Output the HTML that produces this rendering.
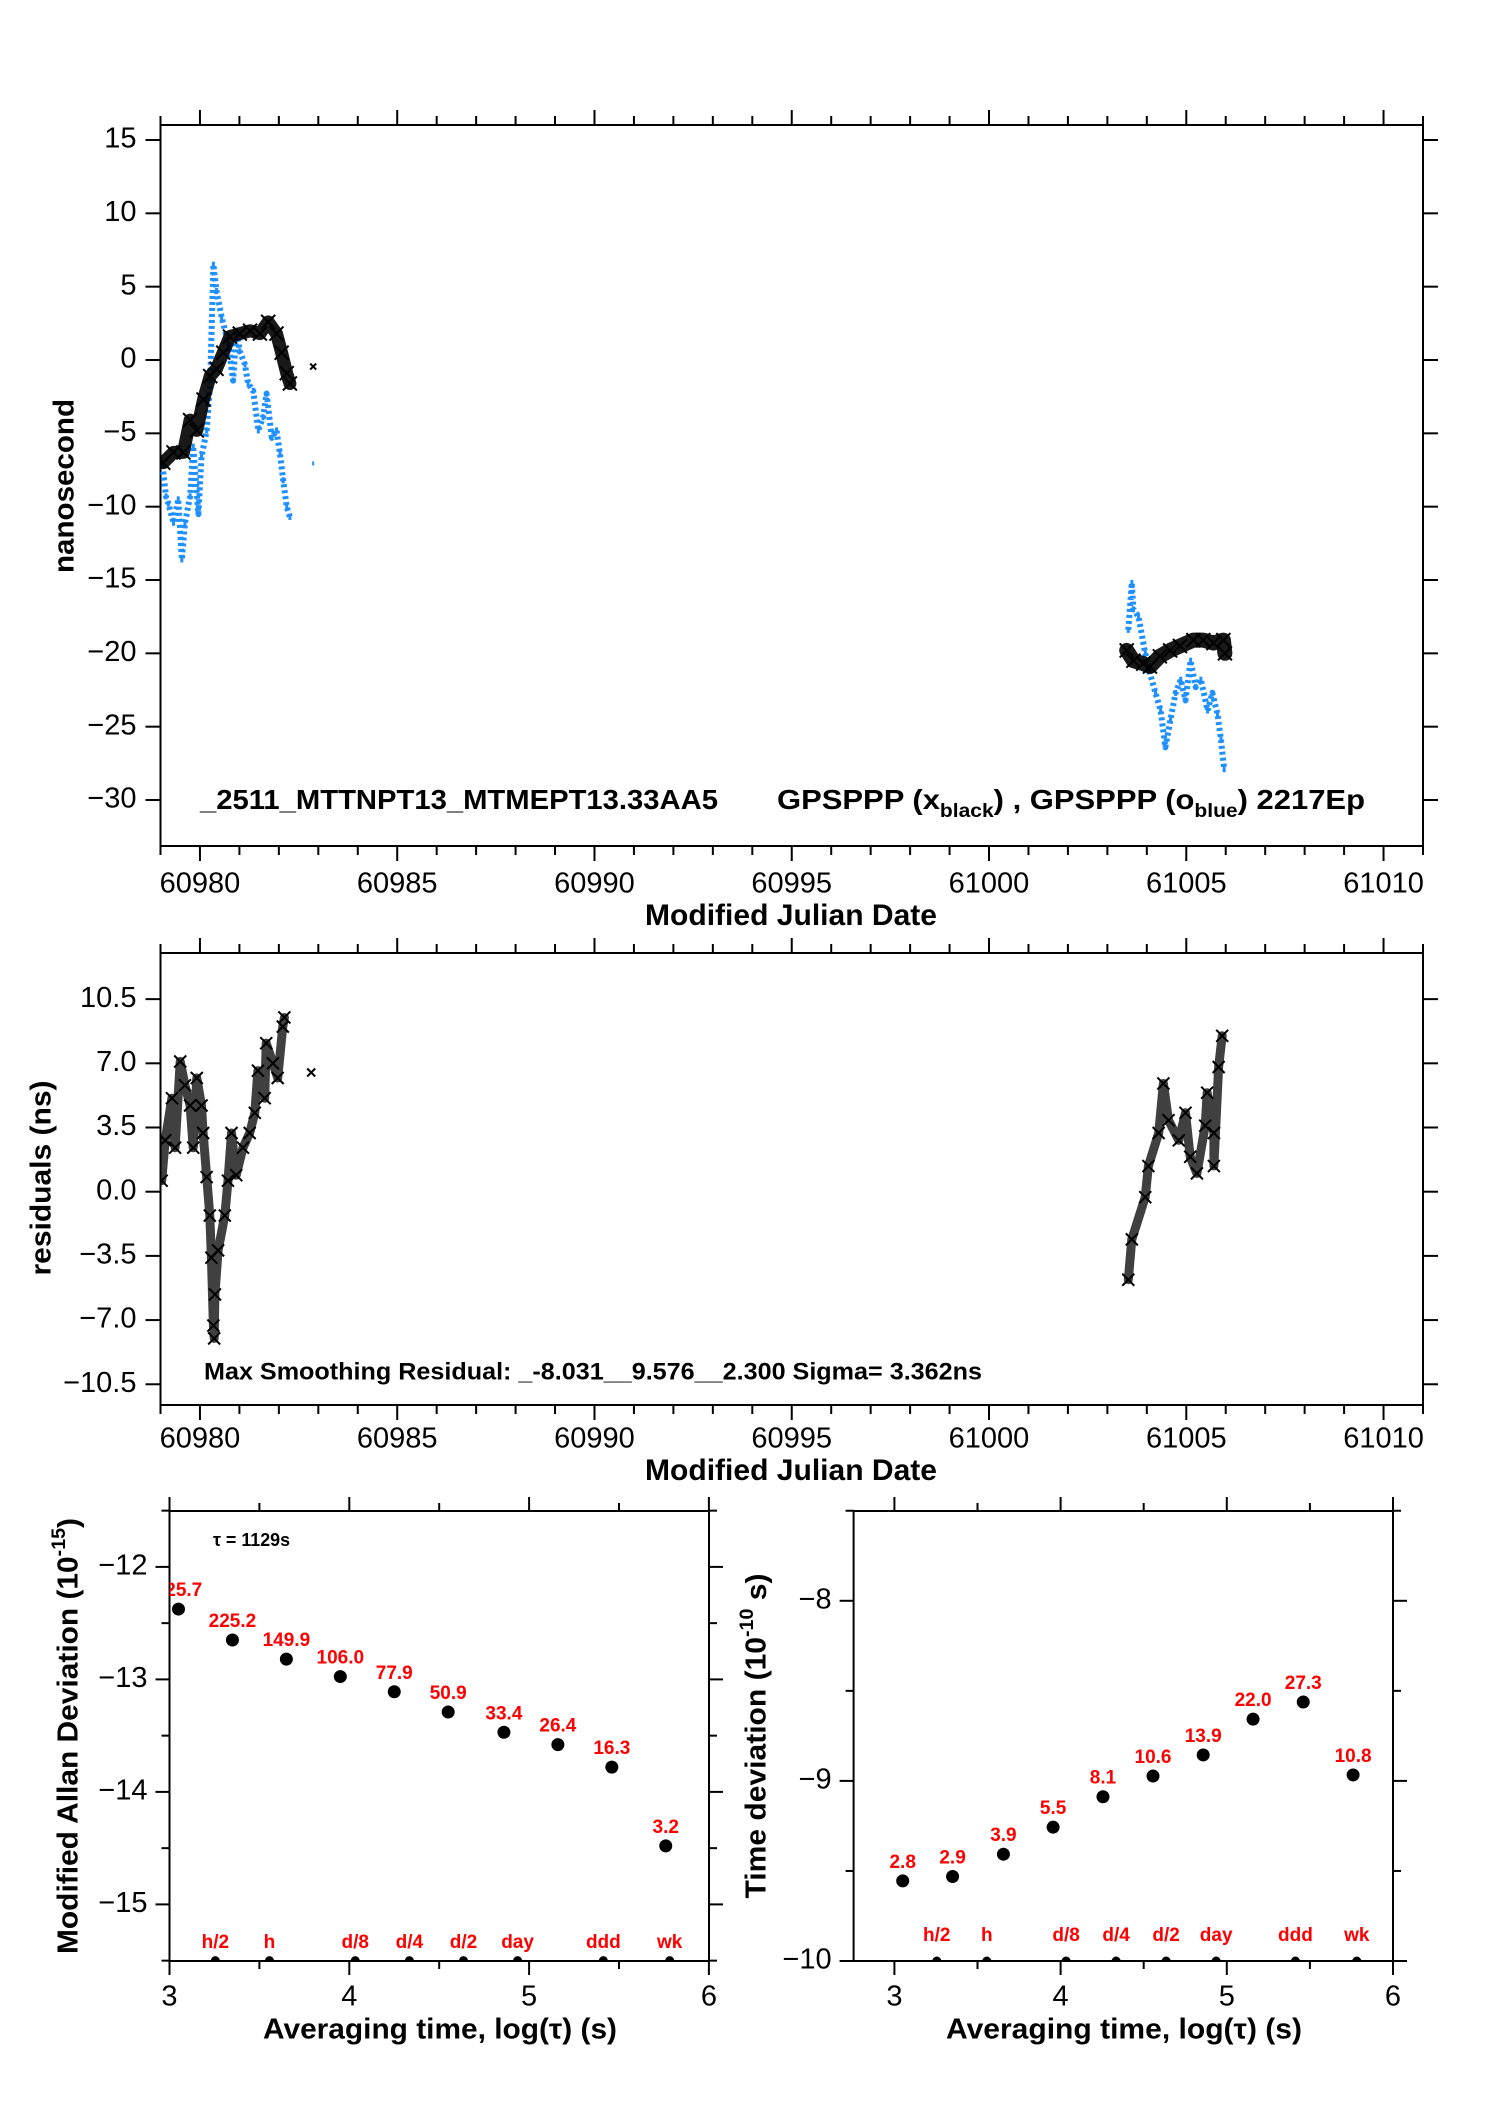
<!DOCTYPE html>
<html><head><meta charset="utf-8"><style>
html,body{margin:0;padding:0;background:#fff;}
svg{display:block;font-family:"Liberation Sans",Arial,sans-serif;}
</style></head><body>
<svg id="chart" xmlns="http://www.w3.org/2000/svg" width="1488" height="2105" viewBox="0 0 1488 2105">
<rect x="0" y="0" width="1488" height="2105" fill="#fff"/>
<defs>
<clipPath id="clipTop"><rect x="160.5" y="125" width="1262.5" height="721"/></clipPath>
<clipPath id="clipMid"><rect x="160.5" y="953" width="1262.5" height="452"/></clipPath>
<clipPath id="clipL"><rect x="169.5" y="1511" width="539.5" height="450"/></clipPath>
<clipPath id="clipR"><rect x="853.6" y="1511" width="539.4" height="450"/></clipPath>
</defs>
<g id="layer"></g>
</svg>
<script>
// ---------- data ----------
const blackMjd1 = [60979.07,60979.33,60979.58,60979.75,60979.92,60980.09,60980.26,60980.42,60980.59,60980.76,60981.01,60981.27,60981.52,60981.73,60981.94,60982.07,60982.2,60982.28];
const blackNs1  = [-7.0,-6.3,-6.3,-4.1,-4.8,-2.7,-1.1,-0.6,0.5,1.6,1.8,2.0,1.8,2.6,1.8,0.5,-0.9,-1.6];
const blackMjd2 = [61003.49,61003.66,61003.91,61004.08,61004.33,61004.59,61004.84,61005.18,61005.43,61005.69,61005.94,61005.98];
const blackNs2  = [-19.8,-20.5,-20.7,-20.9,-20.2,-19.8,-19.5,-19.1,-19.1,-19.3,-19.1,-20.0];
const blackOutMjd = [60982.87];
const blackOutNs = [-0.45];
const blueMjd1 = [60979.05,60979.14,60979.2,60979.33,60979.45,60979.54,60979.62,60979.75,60979.83,60979.96,60980.04,60980.17,60980.26,60980.34,60980.42,60980.55,60980.72,60980.84,60980.93,60981.01,60981.14,60981.22,60981.35,60981.48,60981.6,60981.69,60981.82,60981.94,60982.03,60982.11,60982.2,60982.28];
const blueNs1  = [-7.2,-9.3,-9.8,-11.1,-9.5,-13.6,-11.1,-9.3,-5.9,-10.5,-6.6,-4.8,-1.4,6.5,4.7,2.9,1.1,-1.4,2.0,0.6,-0.3,-1.6,-2.1,-4.8,-3.9,-2.3,-5.3,-4.8,-6.4,-8.2,-10.0,-10.7];
const blueMjd2 = [61003.53,61003.62,61003.66,61003.79,61003.96,61004.05,61004.22,61004.35,61004.47,61004.6,61004.73,61004.86,61004.98,61005.11,61005.24,61005.37,61005.54,61005.66,61005.79,61005.88,61005.96];
const blueNs2  = [-18.4,-15.2,-17.0,-17.5,-20.0,-21.1,-22.7,-23.9,-26.4,-24.5,-22.7,-21.8,-23.2,-20.5,-22.3,-21.8,-23.9,-22.7,-24.1,-25.9,-27.9];
const blueOutMjd = [60982.87];
const blueOutNs = [-7.05];

const resMjd1 = [60979.03,60979.12,60979.29,60979.37,60979.5,60979.62,60979.75,60979.83,60979.92,60980.04,60980.08,60980.17,60980.25,60980.29,60980.34,60980.36,60980.38,60980.46,60980.63,60980.71,60980.8,60980.92,60981.09,60981.26,60981.39,60981.47,60981.64,60981.68,60981.85,60981.97,60982.1,60982.14];
const resNs1  = [0.6,2.8,5.1,2.4,7.1,5.8,4.7,2.4,6.2,4.7,3.2,0.8,-1.3,-3.6,-7.3,-8.0,-5.6,-3.2,-1.3,0.6,3.2,0.9,2.4,3.2,4.3,6.6,5.1,8.1,7.0,6.2,9.0,9.5];
const resMjd2 = [61003.53,61003.62,61003.96,61004.04,61004.3,61004.42,61004.55,61004.81,61004.98,61005.1,61005.27,61005.48,61005.53,61005.7,61005.7,61005.82,61005.91];
const resNs2  = [-4.8,-2.6,-0.3,1.4,3.2,5.9,3.9,2.8,4.3,1.9,1.0,3.6,5.4,3.2,1.4,6.8,8.5];
const resOutMjd = [60982.82];
const resOutNs = [6.5];

const mdevLogTau = [3.05,3.35,3.65,3.95,4.25,4.55,4.86,5.16,5.46,5.76];
const mdevVal    = [-12.375,-12.65,-12.82,-12.975,-13.11,-13.29,-13.47,-13.58,-13.78,-14.48];
const mdevLabels = ["225.7","225.2","149.9","106.0","77.9","50.9","33.4","26.4","16.3","3.2"];
const tdevLogTau = [3.05,3.35,3.656,3.955,4.255,4.556,4.858,5.158,5.46,5.76];
const tdevVal    = [-9.555,-9.531,-9.407,-9.257,-9.088,-8.973,-8.856,-8.657,-8.562,-8.967];
const tdevLabels = ["2.8","2.9","3.9","5.5","8.1","10.6","13.9","22.0","27.3","10.8"];
const markNames  = ["h/2","h","d/8","d/4","d/2","day","ddd","wk"];
const markLogTau = [3.255,3.556,4.033,4.334,4.635,4.936,5.413,5.782];

const mjdTicks = [60980,60985,60990,60995,61000,61005,61010];
const topYTicks = [15,10,5,0,-5,-10,-15,-20,-25,-30];
const midYTicks = [10.5,7.0,3.5,0.0,-3.5,-7.0,-10.5];
const logTicks = [3,4,5,6];
const mdevYTicks = [-12,-13,-14,-15];
const tdevYTicks = [-8,-9,-10];

// ---------- scales ----------
const xMjd = m => 160.5 + (m - 60979) * 39.453;
const yTop = v => 360 - v * 14.667;
const yMid = v => 1191.7 - v * 18.34;
const xL = l => 169.5 + (l - 3) * 179.8;
const yL = v => 1566.9 + (-12 - v) * 112.5;
const xR = l => 894.4 + (l - 3) * 166.2;
const yR = v => 1600.8 + (-8 - v) * 180.1;

const NS = "http://www.w3.org/2000/svg";
const layer = document.getElementById('layer');
function mk(tag, attrs, parent) {
  const el = document.createElementNS(NS, tag);
  for (const k in attrs) el.setAttribute(k, attrs[k]);
  (parent || layer).appendChild(el);
  return el;
}
function txt(s, x, y, size, opts, parent) {
  const o = opts || {};
  const el = mk('text', {x: x, y: y, 'font-size': size, 'text-anchor': o.anchor || 'middle',
    'font-weight': o.bold ? 'bold' : 'normal', fill: o.fill || '#000', 'dominant-baseline': o.db || 'auto'}, parent);
  if (o.len) { el.setAttribute('textLength', o.len); el.setAttribute('lengthAdjust', 'spacingAndGlyphs'); }
  el.textContent = s;
  return el;
}
function line(x1, y1, x2, y2, w, parent) {
  return mk('line', {x1: x1, y1: y1, x2: x2, y2: y2, stroke: '#000', 'stroke-width': w || 2}, parent);
}

// ---------- frames ----------
function frame(x, y, w, h, name) {
  const r = mk('rect', {x: x, y: y, width: w, height: h, fill: 'none', stroke: '#000', 'stroke-width': 2});
  
  
}
frame(160.5, 125, 1262.5, 721, 'top-plot-frame');
frame(160.5, 953, 1262.5, 452, 'residual-plot-frame');
frame(169.5, 1511, 539.5, 450, 'mdev-plot-frame');
frame(853.6, 1511, 539.4, 450, 'tdev-plot-frame');

// ---------- MJD x-axes ----------
function mjdAxis(top, bottom, labelY, titleY, prefix) {
  const g = mk('g', {});
  
  
  for (let d = 60979; d <= 61011; d++) {
    const x = xMjd(d);
    const len = (d % 5 === 0) ? 15 : 9;
    line(x, top, x, top - len, 2, g);
    line(x, bottom, x, bottom + len, 2, g);
  }
  mjdTicks.forEach(m => {
    const t = txt(String(m), xMjd(m), labelY, 29, {db: 'middle'}, g);
    
    
  });
  const tt = txt('Modified Julian Date', 791, titleY, 30, {bold: true, db: 'middle', len: 292}, g);
  
  
}
mjdAxis(125, 846, 885, 917, 'top');
mjdAxis(953, 1405, 1440, 1472, 'residual');

// ---------- y-axes top & mid ----------
function yAxis(ticks, scale, left, right, prefix, fmt) {
  const g = mk('g', {});
  
  
  ticks.forEach(v => {
    const y = scale(v);
    line(left - 15, y, left, y, 2, g);
    line(right, y, right + 15, y, 2, g);
    const t = txt(fmt(v).replace('-', '\u2212'), left - 24, y, 29, {anchor: 'end', db: 'middle'}, g);
    
    
  });
}
yAxis(topYTicks, yTop, 160.5, 1423, 'top', v => String(v));
yAxis(midYTicks, yMid, 160.5, 1423, 'residual', v => v.toFixed(1));

let t;
t = txt('nanosecond', 0, 0, 29, {bold: true, db: 'middle', len: 174});
t.setAttribute('transform', 'translate(66,486) rotate(-90)');


t = txt('residuals (ns)', 0, 0, 29, {bold: true, db: 'middle', len: 195});
t.setAttribute('transform', 'translate(43,1178) rotate(-90)');



// ---------- series ----------
function series(xs, ys, xs2, ys2, name, opts, clip) {
  const g = mk('g', {'clip-path': 'url(#' + clip + ')'});
  
  
  const pts = xs.map((m, i) => xs2(m).toFixed(1) + ',' + ys2(ys[i]).toFixed(1)).join(' ');
  const p = mk('polyline', {points: pts, fill: 'none', stroke: opts.color, 'stroke-width': opts.w,
    'stroke-linejoin': 'round', 'stroke-linecap': opts.dash ? 'butt' : 'round', 'stroke-dasharray': opts.dash || 'none',
    'stroke-opacity': opts.op || 1}, g);
  
  
  xs.forEach((m, i) => {
    const cx = xs2(m), cy = ys2(ys[i]), s = opts.mk;
    if (opts.cross) {
      const c = mk('path', {d: `M${cx-s},${cy-s}L${cx+s},${cy+s}M${cx-s},${cy+s}L${cx+s},${cy-s}`, stroke: opts.color, 'stroke-width': 2}, g);
      
      
    } else {
      const c = mk('rect', {x: cx - s/2, y: cy - s, width: s, height: 2*s, fill: opts.color}, g);
      
      
    }
  });
  return g;
}
series(blueMjd1, blueNs1, xMjd, yTop, 'blue-series-segment-1', {color: '#1e90ff', w: 6, dash: '3 3', mk: 3}, 'clipTop');
series(blueMjd2, blueNs2, xMjd, yTop, 'blue-series-segment-2', {color: '#1e90ff', w: 6, dash: '3 3', mk: 3}, 'clipTop');
series(blueOutMjd, blueOutNs, xMjd, yTop, 'blue-series-outlier', {color: '#1e90ff', w: 3, mk: 2}, 'clipTop');
series(blackMjd1, blackNs1, xMjd, yTop, 'black-series-segment-1', {color: '#000', w: 13, mk: 7, cross: true, op: 0.9}, 'clipTop');
series(blackMjd2, blackNs2, xMjd, yTop, 'black-series-segment-2', {color: '#000', w: 15, mk: 7, cross: true, op: 0.9}, 'clipTop');
series(blackOutMjd, blackOutNs, xMjd, yTop, 'black-series-outlier', {color: '#000', w: 1, mk: 3, cross: true}, 'clipTop');

series(resMjd1, resNs1, xMjd, yMid, 'residual-segment-1', {color: '#000', w: 9, mk: 6, cross: true, op: 0.75}, 'clipMid');
series(resMjd2, resNs2, xMjd, yMid, 'residual-segment-2', {color: '#000', w: 9, mk: 6, cross: true, op: 0.75}, 'clipMid');
series(resOutMjd, resOutNs, xMjd, yMid, 'residual-outlier', {color: '#000', w: 1, mk: 4, cross: true}, 'clipMid');

// ---------- titles in plots ----------
t = txt('_2511_MTTNPT13_MTMEPT13.33AA5', 200, 809, 28, {anchor: 'start', bold: true, len: 518});


const leg = mk('text', {x: 777, y: 809, 'font-size': 28, 'font-weight': 'bold', textLength: 588, lengthAdjust: 'spacingAndGlyphs'});


leg.innerHTML = 'GPSPPP (x<tspan font-size="19" dy="8">black</tspan><tspan dy="-8">) ,  GPSPPP (o</tspan><tspan font-size="19" dy="8">blue</tspan><tspan dy="-8">)  2217Ep</tspan>';
t = txt('Max Smoothing Residual: _-8.031__9.576__2.300  Sigma= 3.362ns', 204, 1373, 24, {anchor: 'start', bold: true, db: 'middle', len: 778});



// ---------- bottom panels axes ----------
function logAxis(xs, top, bottom, prefix, left, right, yticks, ys, halfTicks) {
  const g = mk('g', {});
  
  
  for (let l = 3; l <= 6.001; l += 0.5) {
    const x = xs(l);
    const len = (Math.abs(l - Math.round(l)) < 0.01) ? 14 : 8;
    line(x, top, x, top - len, 2, g);
    line(x, bottom, x, bottom + len, 2, g);
  }
  logTicks.forEach(l => {
    const tl = txt(String(l), xs(l), 1998, 29, {db: 'middle'}, g);
    
    
  });
  halfTicks.forEach(v => {
    const y = ys(v);
    line(left - 8, y, left, y, 2, g);
    line(right, y, right + 8, y, 2, g);
  });
  yticks.forEach(v => {
    const y = ys(v);
    line(left - 14, y, left, y, 2, g);
    line(right, y, right + 14, y, 2, g);
    const tl = txt('\u2212' + Math.abs(v), left - 22, y, 29, {anchor: 'end', db: 'middle'}, g);
    
    
  });
}
logAxis(xL, 1511, 1961, 'mdev', 169.5, 709, mdevYTicks, yL, [-11.5, -12.5, -13.5, -14.5, -15.5]);
logAxis(xR, 1511, 1961, 'tdev', 853.6, 1393, tdevYTicks, yR, [-7.5, -8.5, -9.5]);

t = txt('Averaging time, log(\u03c4) (s)', 440, 2031, 29, {bold: true, db: 'middle', len: 354});


t = txt('Averaging time, log(\u03c4) (s)', 1124, 2031, 29, {bold: true, db: 'middle', len: 356});



const yl = mk('text', {x: 0, y: 0, 'font-size': 29, 'font-weight': 'bold', 'text-anchor': 'middle', 'dominant-baseline': 'middle',
  transform: 'translate(70,1736) rotate(-90)', textLength: 436, lengthAdjust: 'spacingAndGlyphs'});


yl.innerHTML = 'Modified Allan Deviation (10<tspan font-size="19" dy="-10">-15</tspan><tspan dy="10">)</tspan>';
const yr = mk('text', {x: 0, y: 0, 'font-size': 29, 'font-weight': 'bold', 'text-anchor': 'middle', 'dominant-baseline': 'middle',
  transform: 'translate(758,1736) rotate(-90)', textLength: 325, lengthAdjust: 'spacingAndGlyphs'});


yr.innerHTML = 'Time deviation (10<tspan font-size="19" dy="-10">-10</tspan><tspan dy="10"> s)</tspan>';

t = txt('\u03c4 = 1129s', 213, 1546, 18, {anchor: 'start', bold: true, len: 77});



function devPoints(xs, ys, lx, lv, labels, name, clip, labelY, bottomV) {
  const g = mk('g', {'clip-path': 'url(#' + clip + ')'});
  
  
  lx.forEach((l, i) => {
    const cx = xs(l), cy = ys(lv[i]);
    const c = mk('circle', {cx: cx, cy: cy, r: 6.5, fill: '#000'}, g);
    
    
    const tl = txt(labels[i], cx, cy - 13, 19, {bold: true, fill: '#ff0000'}, g);
    
    
  });
  markLogTau.forEach((l, i) => {
    const cx = xs(l);
    const d = mk('circle', {cx: cx, cy: ys(bottomV), r: 4.5, fill: '#000'}, g);
    
    
    const tl = txt(markNames[i], cx, labelY, 19, {bold: true, fill: '#ff0000', db: 'middle'}, g);
    
    
  });
}
devPoints(xL, yL, mdevLogTau, mdevVal, mdevLabels, 'mdev', 'clipL', 1943, -15.5);
devPoints(xR, yR, tdevLogTau, tdevVal, tdevLabels, 'tdev', 'clipR', 1936, -10);
</script>
</body></html>
